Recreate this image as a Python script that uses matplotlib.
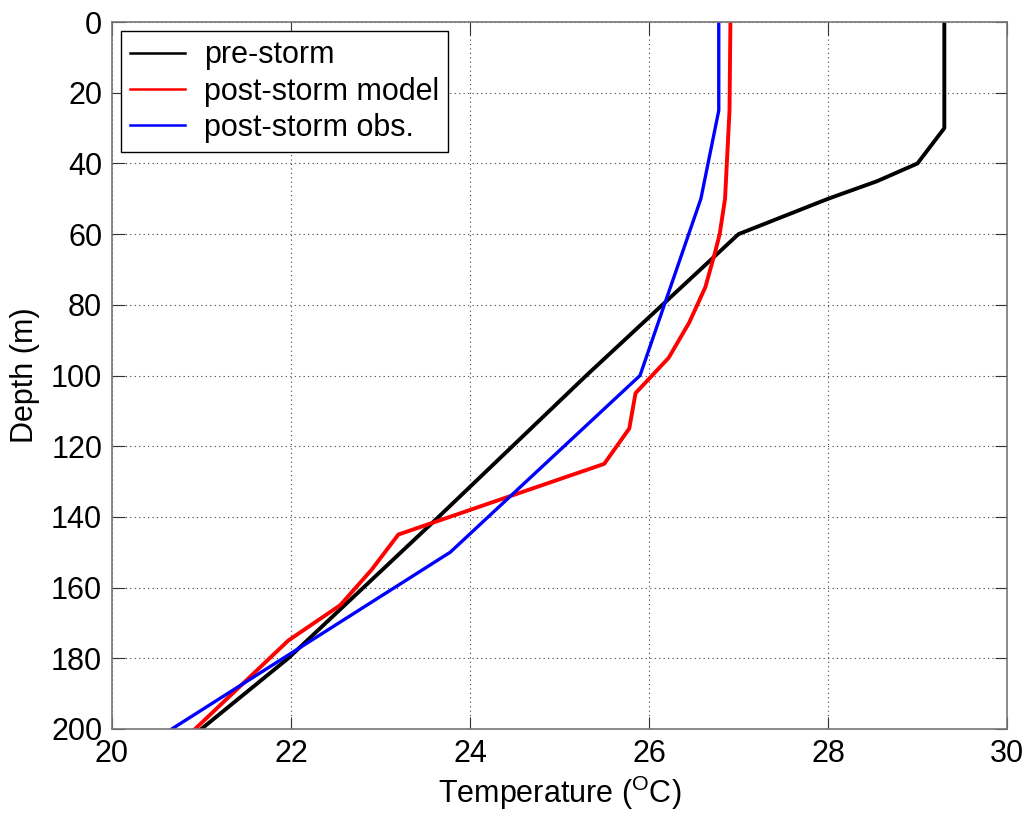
import numpy as np
import matplotlib
matplotlib.use('Agg')
import matplotlib.pyplot as plt

# ----------------------------------------
# Temperature profiles (deg C) vs depth (m)
# ----------------------------------------
pre_depth = [0, 30, 40, 45, 50, 60, 100, 140, 180, 200]
pre_temp = [29.3, 29.3, 29.0, 28.55, 28.0, 27.0, 25.3, 23.65, 21.97, 21.0]

model_depth = [0, 25, 40, 50, 60, 65, 75, 85, 95, 105, 115, 125, 145, 155, 165, 175, 200]
model_temp = [26.91, 26.9, 26.87, 26.85, 26.79, 26.74, 26.63, 26.45, 26.22, 25.85, 25.78,
              25.5, 23.2, 22.9, 22.55, 21.97, 20.93]

obs_depth = [0, 25, 50, 100, 150, 200]
obs_temp = [26.78, 26.78, 26.58, 25.9, 23.78, 20.67]

x_ticks = [20, 22, 24, 26, 28, 30]
y_ticks = [0, 20, 40, 60, 80, 100, 120, 140, 160, 180, 200]

plt.rcParams['font.family'] = ['Liberation Sans', 'DejaVu Sans']
plt.rcParams['mathtext.fontset'] = 'custom'
plt.rcParams['mathtext.rm'] = 'Liberation Sans'
plt.rcParams['mathtext.it'] = 'Liberation Sans'
plt.rcParams['font.size'] = 22

fig = plt.figure(figsize=(10.27, 8.19), dpi=100)
ax = fig.add_axes([0.109, 0.110, 0.8715, 0.863])

ax.plot(pre_temp, pre_depth, color='black', lw=2.8, label='pre-storm')
ax.plot(model_temp, model_depth, color='red', lw=2.8, label='post-storm model')
ax.plot(obs_temp, obs_depth, color='blue', lw=2.4, label='post-storm obs.')

ax.set_xlim(20, 30)
ax.set_ylim(200, 0)
ax.set_xticks(x_ticks)
ax.set_yticks(y_ticks)
ax.grid(True, linestyle=(0, (1, 3)), color='#444444', lw=0.8)
ax.tick_params(direction='in', length=9, width=0.8, top=True, right=True,
               color='#333333', labelsize=22, pad=7)
for s in ax.spines.values():
    s.set_color('#777777')
    s.set_linewidth(1.2)

ax.set_xlabel('Temperature ($^{\\rm O}$C)', labelpad=4)
ax.set_ylabel('Depth (m)', labelpad=8)

leg = ax.legend(loc='upper left', fancybox=False, edgecolor='black', framealpha=1,
                handlelength=1.8, handletextpad=0.6, labelspacing=0.2,
                borderaxespad=0.3, borderpad=0.3, fontsize=22)
leg.get_frame().set_linewidth(1.0)
for h in leg.get_lines():
    h.set_linewidth(1.8)

fig.savefig('out.png', dpi=100)
